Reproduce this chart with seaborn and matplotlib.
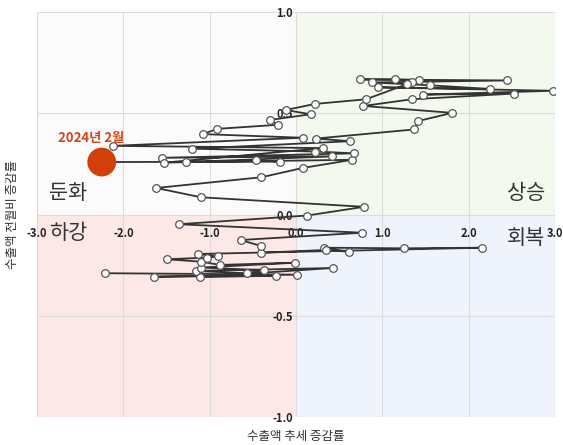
import matplotlib
matplotlib.use('Agg')
import matplotlib.pyplot as plt
import seaborn as sns
import pandas as pd

# 수출액 추세 증감률 (x) / 수출액 전월비 증감률 (y), 시간 순서
x_trend = [-2.21, 0.01, -1.64, -0.23, -1.11, 0.43, -1.16, -0.57, -0.375, -1.10,
           -0.01, -0.88, -1.10, -1.50, -1.03, -0.90, -1.14, 2.15, 1.25, 0.32,
           0.61, 0.35, -0.41, -0.40, -0.64, 0.77, -1.36, 0.13, 0.79, -1.10,
           -1.62, -0.40, 0.08, 0.65, -1.275, 0.42, -1.55, 0.675, 0.22, -1.20,
           0.63, 0.23, 1.37, 1.41, 1.81, 0.78, 1.34, 2.52, 1.47, 2.98,
           0.95, 2.25, 1.55, 0.875, 2.44, 0.74, 1.15, 1.43, 1.34, 1.29,
           0.81, 0.22, -0.12, 0.17, -0.30, -0.21, -0.91, -1.08, 0.08, -2.12,
           0.31, -1.525, -0.46, -0.18, -2.25]
y_mom = [-0.290, -0.297, -0.307, -0.303, -0.308, -0.264, -0.279, -0.290, -0.275, -0.262,
         -0.238, -0.249, -0.233, -0.221, -0.213, -0.207, -0.195, -0.164, -0.167, -0.164,
         -0.184, -0.175, -0.189, -0.156, -0.126, -0.090, -0.048, -0.005, 0.038, 0.085,
         0.131, 0.184, 0.230, 0.270, 0.259, 0.287, 0.280, 0.302, 0.311, 0.325,
         0.362, 0.375, 0.420, 0.461, 0.502, 0.536, 0.569, 0.597, 0.592, 0.611,
         0.628, 0.620, 0.638, 0.652, 0.662, 0.667, 0.667, 0.664, 0.654, 0.644,
         0.569, 0.546, 0.516, 0.495, 0.467, 0.443, 0.423, 0.397, 0.379, 0.339,
         0.328, 0.256, 0.267, 0.261, 0.259]
last_label = '2024년 2월'

x_ticks = [-3.0, -2.0, -1.0, 0.0, 1.0, 2.0, 3.0]
y_ticks = [-1.0, -0.5, 0.0, 0.5, 1.0]

# 사분면 이름과 배경색
quad_names = ['둔화', '상승', '하강', '회복']
quad_colors = ['#fbfbfb', '#f3f9ee', '#fde8e8', '#eef3fc']

df = pd.DataFrame({'x': x_trend, 'y': y_mom})

sns.set_style('white')
plt.rcParams['font.family'] = ['Noto Sans CJK KR', 'DejaVu Sans']

fig = plt.figure(figsize=(5.63, 4.45), dpi=100)
ax = fig.add_axes([37 / 563, 28 / 445, 518 / 563, 405 / 445])

ax.set_xlim(x_ticks[0], x_ticks[-1])
ax.set_ylim(y_ticks[0], y_ticks[-1])

# 사분면 배경
ax.fill_between([x_ticks[0], 0], 0, y_ticks[-1], color=quad_colors[0], lw=0, zorder=0)
ax.fill_between([0, x_ticks[-1]], 0, y_ticks[-1], color=quad_colors[1], lw=0, zorder=0)
ax.fill_between([x_ticks[0], 0], y_ticks[0], 0, color=quad_colors[2], lw=0, zorder=0)
ax.fill_between([0, x_ticks[-1]], y_ticks[0], 0, color=quad_colors[3], lw=0, zorder=0)

ax.set_xticks(x_ticks)
ax.set_yticks(y_ticks)
ax.set_xticklabels([f'{v:.1f}' for v in x_ticks])
ax.set_yticklabels([f'{v:.1f}' for v in y_ticks])
ax.grid(True, color='#dcdcdc', lw=0.8, zorder=1)
ax.set_axisbelow(True)

for side in ['left', 'bottom']:
    ax.spines[side].set_position('zero')
    ax.spines[side].set_visible(False)
ax.spines['top'].set_visible(False)
ax.spines['right'].set_visible(False)
ax.tick_params(length=0, labelsize=8, labelcolor='#222222')
ax.tick_params(axis='x', pad=9)
ax.tick_params(axis='y', pad=2)
for lab in ax.get_xticklabels() + ax.get_yticklabels():
    lab.set_fontweight('bold')

sns.lineplot(data=df, x='x', y='y', sort=False, estimator=None, ax=ax,
             color='#333333', linewidth=1.3, marker='o', markersize=5.5,
             markerfacecolor='white', markeredgecolor='#555555', markeredgewidth=0.9,
             zorder=3)

sns.scatterplot(x=[x_trend[-1]], y=[y_mom[-1]], ax=ax, s=430, color='#d23f0a',
                edgecolor='none', zorder=5)
ax.annotate(last_label, (x_trend[-1], y_mom[-1]), xytext=(-8, 17),
            textcoords='offset points', ha='center', va='center',
            fontsize=9.5, fontweight='bold', color='#d0471c', zorder=6)

ax.text(0.024, 0.553, quad_names[0], transform=ax.transAxes, ha='left', va='center',
        fontsize=15, color='#333333')
ax.text(0.982, 0.553, quad_names[1], transform=ax.transAxes, ha='right', va='center',
        fontsize=15, color='#333333')
ax.text(0.024, 0.454, quad_names[2], transform=ax.transAxes, ha='left', va='center',
        fontsize=15, color='#333333')
ax.text(0.980, 0.442, quad_names[3], transform=ax.transAxes, ha='right', va='center',
        fontsize=15, color='#333333')

ax.set_xlabel('수출액 추세 증감률', fontsize=9, color='#333333')
ax.set_ylabel('수출액 전월비 증감률', fontsize=9, color='#333333')
ax.xaxis.set_label_coords(0.5, -0.032)
ax.yaxis.set_label_coords(-0.035, 0.5)

fig.savefig('out.png', dpi=100)
